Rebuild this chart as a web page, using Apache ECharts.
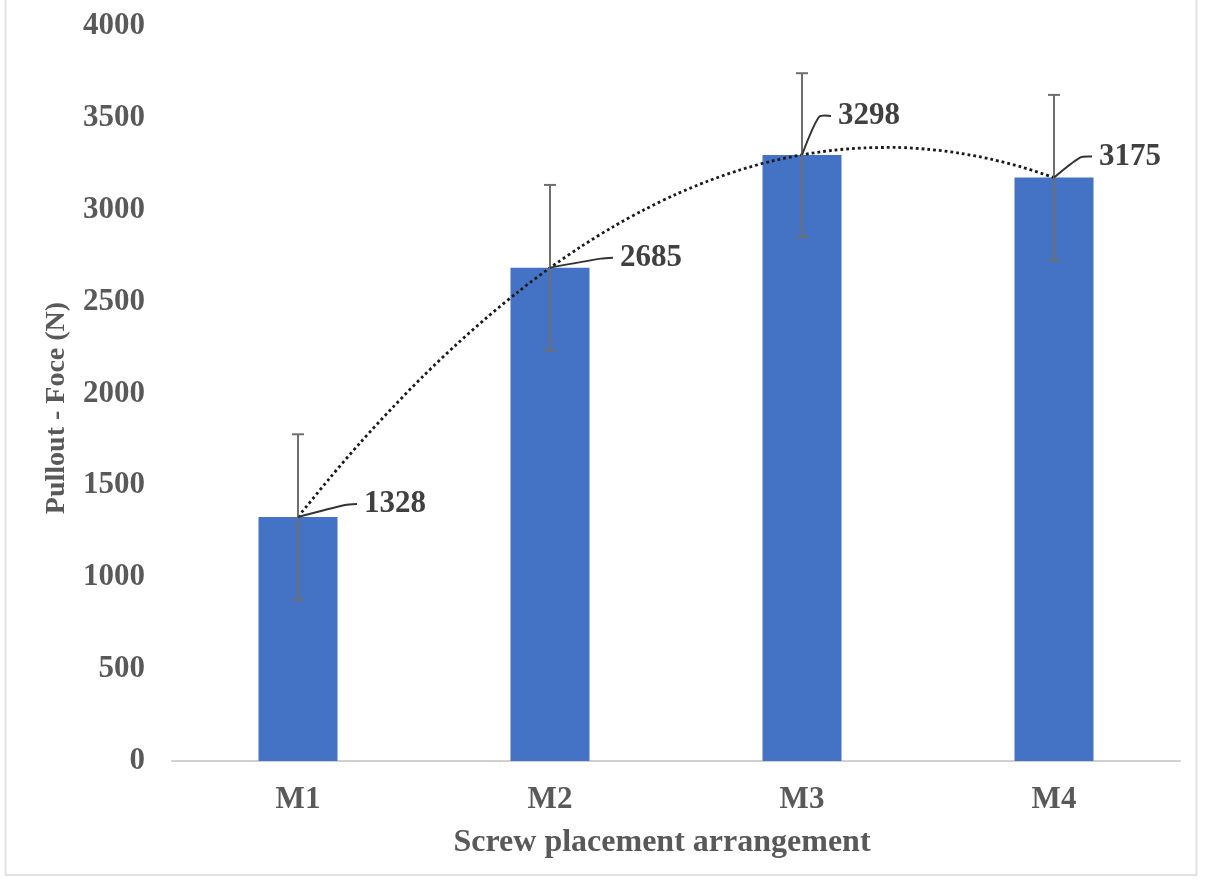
<!DOCTYPE html>
<html>
<head>
<meta charset="utf-8">
<script src="https://cdn.jsdelivr.net/npm/echarts@6/dist/echarts.min.js"></script>
<style>
html,body{margin:0;padding:0;background:#fff;}
#chart{width:1205px;height:887px;}
</style>
</head>
<body>
<div id="chart"></div>
<script>
// ---- data ----
var categories = ['M1', 'M2', 'M3', 'M4'];
var meanForce = [1328, 2685, 3298, 3175];
var errorForce = [450, 450, 445, 450];
var yTicks = [0, 500, 1000, 1500, 2000, 2500, 3000, 3500, 4000];
// dotted trend curve at 1/8-category steps (x = 1 .. 4)
var trendX = [1, 1.125, 1.25, 1.375, 1.5, 1.625, 1.75, 1.875, 2, 2.125, 2.25, 2.375, 2.5,
              2.625, 2.75, 2.875, 3, 3.125, 3.25, 3.375, 3.5, 3.625, 3.75, 3.875, 4];
var trendY = [1328, 1538, 1737, 1923, 2099, 2262, 2414, 2555, 2684, 2801, 2907, 3001, 3084,
              3155, 3215, 3263, 3299, 3324, 3337, 3339, 3329, 3308, 3275, 3231, 3175];

// ---- layout (label placement, px offsets from the bar top) ----
var labelOffsets = [[66, -13], [70, -10], [36, -39], [45, -21]];

var serif = '"Liberation Serif", "Times New Roman", serif';
var chart = echarts.init(document.getElementById('chart'), null, {renderer: 'canvas'});

var errData = categories.map(function (c, i) { return [i, meanForce[i] - errorForce[i], meanForce[i] + errorForce[i]]; });
var labelData = categories.map(function (c, i) { return [i, meanForce[i], labelOffsets[i][0], labelOffsets[i][1]]; });
var trendData = trendX.map(function (x, i) { return [x, trendY[i]]; });

var option = {
  backgroundColor: '#ffffff',
  animation: false,
  graphic: [{
    type: 'rect', silent: true, z: -1,
    shape: {x: 5.5, y: -5, width: 1191, height: 880},
    style: {fill: 'none', stroke: '#e2e2e2', lineWidth: 2}
  }, {
    type: 'text', silent: true,
    x: 57, y: 408, rotation: Math.PI / 2,
    style: {text: 'Pullout - Foce (N)', fill: '#595959', font: 'bold 28px ' + serif,
            textAlign: 'center', textVerticalAlign: 'middle'}
  }],
  grid: {left: 172, right: 25, top: 26, bottom: 126},
  xAxis: [{
    type: 'category',
    data: categories,
    axisLine: {show: true, lineStyle: {color: '#d0d0d0', width: 2}},
    axisTick: {show: false},
    axisLabel: {color: '#595959', fontFamily: serif, fontWeight: 'bold', fontSize: 31, margin: 23},
    name: 'Screw placement arrangement',
    nameLocation: 'middle',
    nameGap: 66,
    nameTextStyle: {color: '#595959', fontFamily: serif, fontWeight: 'bold', fontSize: 32, padding: [0, 28, 0, 0]}
  }, {
    type: 'value', min: 0.5, max: 4.5, show: false
  }],
  yAxis: {
    type: 'value',
    min: yTicks[0], max: yTicks[yTicks.length - 1], interval: yTicks[1] - yTicks[0],
    axisLine: {show: false},
    axisTick: {show: false},
    splitLine: {show: false},
    axisLabel: {color: '#595959', fontFamily: serif, fontWeight: 'bold', fontSize: 31, margin: 27,
                formatter: function (v) { return String(v); }}
  },
  series: [{
    type: 'bar',
    data: meanForce,
    barWidth: 79,
    itemStyle: {color: '#4472C4'},
    z: 2
  }, {
    type: 'line',
    xAxisIndex: 1,
    data: trendData,
    smooth: 0.3,
    symbol: 'none',
    lineStyle: {color: '#1a1a1a', width: 2.8, type: [2.8, 3]},
    z: 4
  }, {
    type: 'custom',
    data: errData,
    z: 5,
    renderItem: function (params, api) {
      var lo = api.coord([api.value(0), api.value(1)]);
      var hi = api.coord([api.value(0), api.value(2)]);
      var cap = 6;
      var st = {stroke: '#6f6f6f', lineWidth: 2};
      return {type: 'group', children: [
        {type: 'line', shape: {x1: hi[0], y1: hi[1], x2: lo[0], y2: lo[1]}, style: st},
        {type: 'line', shape: {x1: hi[0] - cap, y1: hi[1], x2: hi[0] + cap, y2: hi[1]}, style: st},
        {type: 'line', shape: {x1: lo[0] - cap, y1: lo[1], x2: lo[0] + cap, y2: lo[1]}, style: st}
      ]};
    }
  }, {
    type: 'custom',
    data: labelData,
    z: 6,
    renderItem: function (params, api) {
      var p = api.coord([api.value(0), api.value(1)]);
      var dx = api.value(2), dy = api.value(3);
      var tx = p[0] + dx, ty = p[1] + dy;
      var ex = tx - 7, ey = ty;
      var bx = ex - 12;
      return {type: 'group', children: [
        {type: 'polyline', shape: {points: [[p[0], p[1]], [bx, ey + 1], [ex, ey]], smooth: 0.25},
         style: {stroke: '#333333', lineWidth: 2, fill: null}},
        {type: 'text', style: {x: tx, y: ty, text: String(Math.round(api.value(1))),
          fill: '#404040', font: 'bold 31px ' + serif, textAlign: 'left', textVerticalAlign: 'middle'}}
      ]};
    }
  }]
};
chart.setOption(option);
</script>
</body>
</html>
